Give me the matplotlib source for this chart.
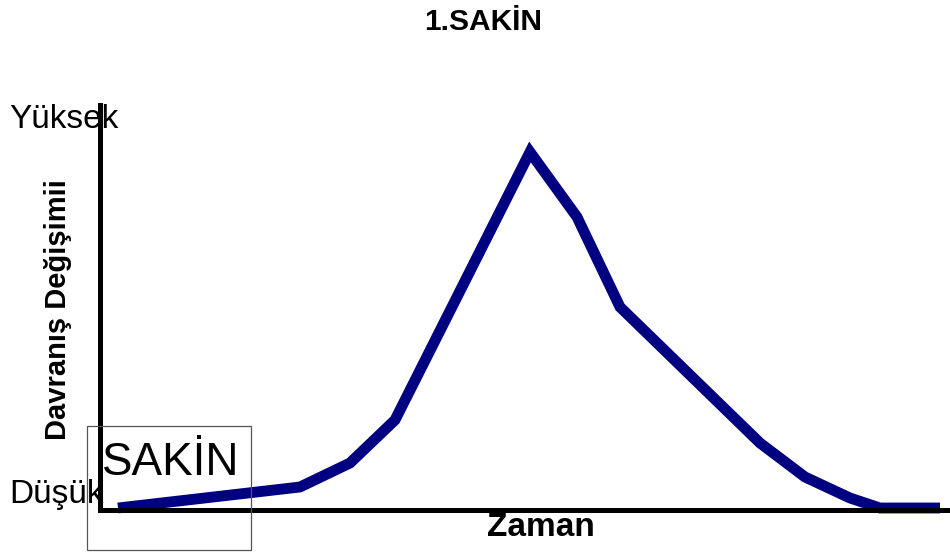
import matplotlib
matplotlib.use("Agg")
from matplotlib import pyplot as plt
from matplotlib.patches import Rectangle

plt.rcParams['font.family'] = ['Liberation Sans', 'DejaVu Sans']

# curve (time, level of behaviour change)
zaman = [18, 200, 250, 295, 430, 477, 520, 590, 660, 705, 750, 780, 840]
davranis = [2, 23, 47, 90, 358, 293, 203, 135, 67, 33, 12, 2, 2]

W, H = 950, 555

def fx(px):
	return px / W

def fy(py):
	return 1 - py / H

fig = plt.figure(figsize=(9.5, 5.55), dpi=100)
ax = fig.add_axes([fx(100), fy(510), fx(850), 405 / H])
ax.set_xlim(0, 850)
ax.set_ylim(0, 405)

ax.plot(zaman, davranis, color='#000080', lw=7.8, solid_capstyle='butt',
	solid_joinstyle='miter', clip_on=False)

for side in ('top', 'right'):
	ax.spines[side].set_visible(False)
for side in ('left', 'bottom'):
	ax.spines[side].set_linewidth(3.6)
	ax.spines[side].set_color('black')
	ax.spines[side].set_capstyle('projecting')
ax.set_xticks([])
ax.set_yticks([])

fig.text(fx(483), fy(22), "1.SAKİN", ha='center', va='center', fontsize=21.5, fontweight='bold')
fig.text(fx(9), fy(128), "Yüksek", ha='left', va='baseline', fontsize=24)
fig.text(fx(9), fy(503), "Düşük", ha='left', va='baseline', fontsize=24)
fig.text(fx(58), fy(310), "Davranış Değişimii", ha='center', va='center', rotation=90,
	fontsize=21, fontweight='bold')
fig.text(fx(541), fy(528), "Zaman", ha='center', va='center', fontsize=24, fontweight='bold')
fig.text(fx(102), fy(475), "SAKİN", ha='left', va='baseline', fontsize=33)

fig.patches.append(Rectangle((fx(87), fy(550)), fx(251) - fx(87), fy(426) - fy(550),
	transform=fig.transFigure, fill=False, edgecolor='#555555', lw=0.9, zorder=5))

plt.savefig("out.png", dpi=100)
